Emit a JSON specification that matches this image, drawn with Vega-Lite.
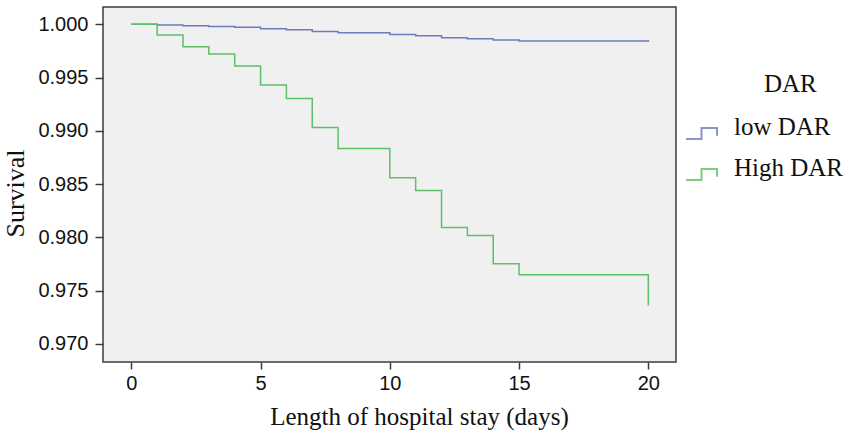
{
  "$schema": "https://vega.github.io/schema/vega-lite/v6.json",
  "width": 573,
  "height": 355,
  "autosize": {"type": "none"},
  "padding": {"left": 103, "top": 7, "right": 175, "bottom": 75},
  "background": "white",
  "config": {
    "view": {"fill": "#f0f0f0", "stroke": "#3c3c3c", "strokeWidth": 1.5},
    "axis": {
      "domain": false,
      "grid": false,
      "tickColor": "#3c3c3c",
      "tickWidth": 1.5,
      "labelFont": "Liberation Sans",
      "labelFontSize": 20,
      "labelColor": "#111",
      "titleFont": "Liberation Serif",
      "titleFontSize": 25,
      "titleFontWeight": "normal",
      "titleColor": "#111"
    }
  },
  "data": {
    "values": [
      {"day": 0, "survival": 1.0, "group": "low DAR"},
      {"day": 1, "survival": 0.99993, "group": "low DAR"},
      {"day": 2, "survival": 0.99987, "group": "low DAR"},
      {"day": 3, "survival": 0.99978, "group": "low DAR"},
      {"day": 4, "survival": 0.99972, "group": "low DAR"},
      {"day": 5, "survival": 0.99959, "group": "low DAR"},
      {"day": 6, "survival": 0.99949, "group": "low DAR"},
      {"day": 7, "survival": 0.99931, "group": "low DAR"},
      {"day": 8, "survival": 0.99921, "group": "low DAR"},
      {"day": 10, "survival": 0.99904, "group": "low DAR"},
      {"day": 11, "survival": 0.99893, "group": "low DAR"},
      {"day": 12, "survival": 0.99874, "group": "low DAR"},
      {"day": 13, "survival": 0.99865, "group": "low DAR"},
      {"day": 14, "survival": 0.99853, "group": "low DAR"},
      {"day": 15, "survival": 0.99843, "group": "low DAR"},
      {"day": 20, "survival": 0.99834, "group": "low DAR"},
      {"day": 0, "survival": 1.0, "group": "High DAR"},
      {"day": 1, "survival": 0.999, "group": "High DAR"},
      {"day": 2, "survival": 0.9979, "group": "High DAR"},
      {"day": 3, "survival": 0.99722, "group": "High DAR"},
      {"day": 4, "survival": 0.99609, "group": "High DAR"},
      {"day": 5, "survival": 0.99431, "group": "High DAR"},
      {"day": 6, "survival": 0.99303, "group": "High DAR"},
      {"day": 7, "survival": 0.99031, "group": "High DAR"},
      {"day": 8, "survival": 0.98834, "group": "High DAR"},
      {"day": 10, "survival": 0.98559, "group": "High DAR"},
      {"day": 11, "survival": 0.9844, "group": "High DAR"},
      {"day": 12, "survival": 0.98093, "group": "High DAR"},
      {"day": 13, "survival": 0.98018, "group": "High DAR"},
      {"day": 14, "survival": 0.97753, "group": "High DAR"},
      {"day": 15, "survival": 0.9765, "group": "High DAR"},
      {"day": 20, "survival": 0.97362, "group": "High DAR"}
    ]
  },
  "mark": {"type": "line", "interpolate": "step-after", "strokeWidth": 1.5},
  "encoding": {
    "x": {
      "field": "day",
      "type": "quantitative",
      "scale": {"domain": [-1.094, 21.07], "nice": false, "zero": false},
      "axis": {
        "title": "Length of hospital stay (days)",
        "values": [0, 5, 10, 15, 20],
        "tickSize": 7,
        "labelPadding": 4,
        "titleX": 316,
        "titleY": 62,
        "titleAlign": "center",
        "titleBaseline": "alphabetic"
      }
    },
    "y": {
      "field": "survival",
      "type": "quantitative",
      "scale": {"domain": [0.96831, 1.00162], "nice": false, "zero": false},
      "axis": {
        "title": "Survival",
        "values": [0.97, 0.975, 0.98, 0.985, 0.99, 0.995, 1.0],
        "format": ".3f",
        "tickSize": 8,
        "labelPadding": 7,
        "titleFontSize": 26,
        "titleX": -80,
        "titleY": 186,
        "titleAngle": 270,
        "titleAlign": "center",
        "titleBaseline": "alphabetic"
      }
    },
    "color": {
      "field": "group",
      "type": "nominal",
      "scale": {"domain": ["low DAR", "High DAR"], "range": ["#6c7bbd", "#5cc066"]},
      "legend": {
        "title": "DAR",
        "orient": "none",
        "legendX": 582,
        "legendY": 65,
        "padding": 0,
        "titleFont": "Liberation Serif",
        "titleFontSize": 25,
        "titleFontWeight": "normal",
        "titleColor": "#111",
        "titleAnchor": "middle",
        "titleAlign": "left",
        "titlePadding": 13,
        "labelFont": "Liberation Serif",
        "labelFontSize": 25,
        "labelColor": "#111",
        "labelOffset": 16,
        "symbolType": "M-1,0.8H0V0.1H1V0.6",
        "symbolSize": 961,
        "symbolStrokeWidth": 2,
        "symbolFillColor": "transparent",
        "symbolOpacity": 0.8,
        "rowPadding": 8
      }
    }
  }
}
